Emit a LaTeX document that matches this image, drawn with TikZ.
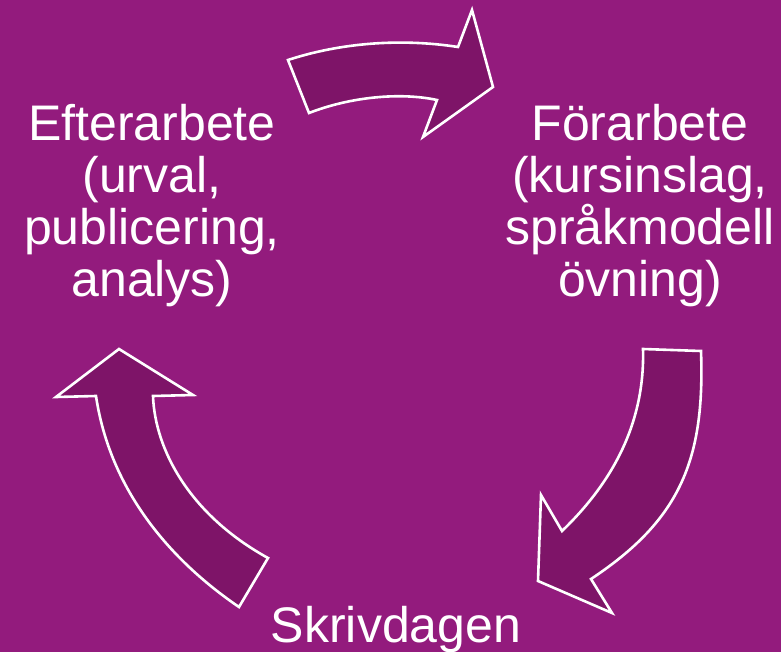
\documentclass[tikz,border=0pt]{standalone}
\usepackage{fontspec}
\setmainfont{Liberation Sans}
\definecolor{bgpurple}{RGB}{147,27,125}
\definecolor{arrowpurple}{RGB}{126,20,104}
\begin{document}
\begin{tikzpicture}[x=1pt,y=-1pt,
  blockarrow/.style={fill=arrowpurple,draw=white,line width=2.6pt,line join=miter},
  label/.style={text=white,align=center,inner sep=0pt,anchor=base,font=\fontsize{50}{52}\selectfont}]
\fill[bgpurple] (0,0) rectangle (781,652);
\useasboundingbox (0,0) rectangle (781,652);
% top arrow
\draw[blockarrow] (288,60) .. controls (340,43) and (400,38) .. (458,47)
  -- (472,10) -- (493,87) -- (423,137) -- (437,100)
  .. controls (400,92) and (350,97) .. (309,113) -- cycle;
% right arrow
\draw[blockarrow] (643,349) -- (701,351)
  .. controls (705,460) and (680,520) .. (591,579)
  -- (612,613) -- (538,581) -- (541,495) -- (562,531)
  .. controls (615,480) and (645,420) .. (643,349) -- cycle;
% left arrow
\draw[blockarrow] (119,349) -- (193,395) -- (153,396)
  .. controls (155,450) and (190,515) .. (268,558)
  -- (239,607)
  .. controls (170,560) and (110,490) .. (96,396)
  -- (56,397) -- cycle;
\node[label] (efter) at (152,296) {Efterarbete\\(urval,\\publicering,\\analys)};
\node[label] (forar) at (640,296) {Förarbete\\(kursinslag,\\språkmodell\\övning)};
\node[label] (skriv) at (396,642) {Skrivdagen};
\end{tikzpicture}
\end{document}
